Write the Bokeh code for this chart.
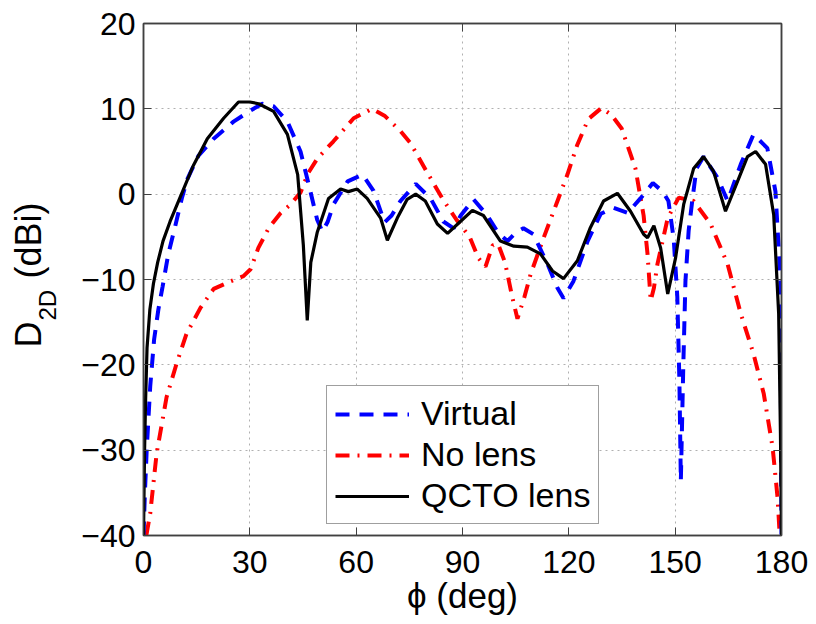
import math
from bokeh.plotting import figure
from bokeh.layouts import row
from bokeh.models import (Range1d, FixedTicker, LinearAxis, Legend, LegendItem,
                          Label, CustomJSTickFormatter)
from bokeh.embed import file_html
from bokeh.resources import INLINE

# ---------------- data ----------------
x_ticks = [0, 30, 60, 90, 120, 150, 180]
y_ticks = [-40, -30, -20, -10, 0, 10, 20]
x_tick_labels = ["0", "30", "60", "90", "120", "150", "180"]
y_tick_labels = ["\u221240", "\u221230", "\u221220", "\u221210", "0", "10", "20"]

virtual_phi = [0, 0.4, 0.9, 1.9, 3.0, 4.2, 5.4, 7.0, 8.8, 10.8, 12.4, 15.5, 19.8,
               25.4, 30.2, 33.5, 36.7, 40.6, 44.3, 47.1, 49.0, 50.5, 52.0, 53.6,
               57.6, 61.8, 64.9, 68.0, 70.0, 72.5, 76.8, 81.0, 84.6, 87.5, 89.5,
               93.1, 97.0, 100.0, 102.7, 105.0, 107.2, 110.0, 114.0, 116.8, 118.5,
               121.3, 125.3, 129.0, 132.6, 136.6, 140.2, 143.7, 146.5, 148.1,
               149.6, 150.6, 151.2, 151.6, 152.3, 152.9, 153.8, 154.9, 156.0,
               158.0, 162.0, 164.8, 168.5, 172.1, 176.0, 178.3, 179.7, 180.0]
virtual_db = [-40, -35, -30, -22.5, -17, -13.5, -10.8, -7, -4, -0.5, 1.8, 4.5, 6.5,
              8.5, 9.8, 10.6, 10.3, 8.5, 5.0, 0.3, -3.0, -4.4, -3.2, -1.2,
              1.5, 2.3, 0.4, -3.3, -2.5, -0.8, 1.2, -0.5, -3.2, -4.0, -2.5,
              -0.6, -2.5, -4.5, -5.5, -4.5, -4.0, -4.7, -8.2, -11.0, -12.2,
              -10.2, -5.5, -2.3, -1.6, -2.2, -0.5, 1.3, 0.3, -0.8,
              -5.3, -12.0, -22.0, -33.6, -20.0, -10.2, -4.3, -0.5, 3.0,
              4.4, 1.9, -0.8, 3.5, 7.0, 5.4, 0.3, -10.0, -40.0]

nolens_phi = [0.8, 1.9, 3.7, 6.5, 9.3, 12.1, 16.1, 19.8, 24.6, 28.2, 30.2, 32.4,
              35.3, 38.7, 41.5, 44.3, 46.5, 49.1, 53.6, 59.3, 64.5, 68.0, 72.5,
              75.3, 80.1, 84.3, 88.3, 92.0, 94.5, 96.5, 98.5, 100.0, 102.0, 104.0,
              105.5, 107.5, 109.2, 112.9, 116.8, 119.6, 122.4, 125.5, 129.2,
              132.0, 134.9, 138.8, 141.1, 142.2, 143.1, 144.0, 145.0, 147.9,
              151.0, 155.2, 160.0, 164.8, 168.5, 172.1, 175.0, 177.5, 178.9, 179.5]
nolens_db = [-40, -37.4, -30.4, -23.8, -19.9, -16.4, -13.3, -11.1, -10.2, -9.6, -8.8,
             -6.3, -4.0, -2.2, -1.2, 0.2, 2.5, 4.2, 6.2, 8.9, 10.0, 9.2, 7.4,
             6.0, 2.5, -0.5, -3.0, -5.0, -7.5, -8.5, -6.0, -5.8, -8.0, -12.0,
             -14.6, -12.0, -9.4, -5.1, -0.8, 2.3, 5.8, 8.8, 10.1,
             9.3, 7.7, 3.0, -2.5, -7.0, -12.5, -11.0, -8.2, -2.8,
             -0.4, -0.8, -3.5, -8.2, -14.0, -18.7, -23.4, -29.7, -35.6, -40.0]

qcto_phi = [0.0, 0.3, 0.6, 1.0, 1.8, 2.8, 4.0, 5.5, 7.5, 9.5, 11.3, 14.0, 18.0,
            22.6, 26.8, 30.0, 32.5, 36.7, 40.6, 43.5, 45.1, 46.2, 47.2, 49.0,
            52.2, 55.6, 57.8, 60.3, 63.1, 66.9, 68.8, 71.6, 74.4, 76.8, 79.5,
            82.9, 85.8, 89.4, 92.8, 95.9, 100.7, 104.5, 108.3, 112.0, 115.4,
            118.5, 122.4, 126.1, 129.8, 133.7, 137.4, 141.1, 142.2, 144.0,
            145.9, 147.9, 150.1, 152.4, 155.2, 158.0, 160.8, 164.2, 167.6,
            170.4, 172.7, 175.5, 177.8, 179.2, 179.7, 180.0]
qcto_db = [-40, -30, -24, -18, -13.5, -10.5, -8.0, -5.5, -3.2, -1.2, 0.6, 3.3, 6.5,
           8.9, 10.8, 10.8, 10.6, 9.7, 7.0, 2.3, -6.0, -14.8, -8.0, -4.5,
           -0.5, 0.6, 0.3, 0.6, -0.5, -2.8, -5.4, -2.8, -0.6, 0.0, -0.8,
           -3.5, -4.6, -3.2, -1.9, -2.5, -5.5, -6.1, -6.2, -7.0, -9.0,
           -9.9, -7.8, -3.9, -0.8, 0.1, -2.0, -4.7, -5.1, -3.7,
           -6.3, -11.7, -7.5, -1.2, 3.0, 4.4, 2.7, -2.0, 1.5,
           4.4, 5.0, 3.5, -2.4, -14.0, -28.0, -40.0]

legend_labels = ["Virtual", "No lens", "QCTO lens"]
y_label_parts = ["D", "2D", "(dBi)"]

# ---------------- main figure ----------------
FONT = "Liberation Sans"
FW, FH = 638, 512
LW = 70  # width of the side strip that carries the y label
p = figure(frame_width=FW, frame_height=FH,
           min_border_left=143 - LW, min_border_right=27, min_border_top=23,
           min_border_bottom=81,
           x_range=Range1d(0, 180), y_range=Range1d(-40, 20),
           output_backend="svg", toolbar_location=None)
p.background_fill_color = "white"
p.border_fill_color = "white"
p.outline_line_color = "#404040"
p.outline_line_width = 1.5

for ax, ticks, labels in ((p.xaxis[0], x_ticks, x_tick_labels),
                          (p.yaxis[0], y_ticks, y_tick_labels)):
    ax.ticker = FixedTicker(ticks=ticks)
    ax.major_label_overrides = {t: l for t, l in zip(ticks, labels)}
    ax.major_tick_in = 8
    ax.major_tick_out = 0
    ax.minor_tick_line_color = None
    ax.axis_line_color = "#404040"
    ax.axis_line_width = 1.5
    ax.major_tick_line_color = "#404040"
    ax.major_label_text_font = FONT
    ax.major_label_text_font_size = "32px"
    ax.major_label_text_color = "black"

p.xaxis.major_label_standoff = 15
p.yaxis.major_label_standoff = 8
p.xaxis.axis_label = "\u03d5 (deg)"
p.xaxis.axis_label_text_font = FONT
p.xaxis.axis_label_text_font_size = "35px"
p.xaxis.axis_label_text_font_style = "normal"
p.xaxis.axis_label_text_color = "black"
p.xaxis.axis_label_standoff = 0

# box ticks on top and right
for loc, ticks in (("above", x_ticks), ("right", y_ticks)):
    a = LinearAxis(ticker=FixedTicker(ticks=ticks),
                   formatter=CustomJSTickFormatter(code="return ''"),
                   major_tick_in=8, major_tick_out=0,
                   minor_tick_line_color=None,
                   axis_line_color="#404040", axis_line_width=1.5,
                   major_tick_line_color="#404040",
                   major_label_text_font_size="1px", major_label_standoff=0)
    p.add_layout(a, loc)

p.grid.grid_line_color = "#b0b0b0"
p.grid.grid_line_dash = "2 4"
p.grid.grid_line_width = 1
p.xgrid.ticker = FixedTicker(ticks=x_ticks)
p.ygrid.ticker = FixedTicker(ticks=y_ticks)

r_red = p.line(nolens_phi, nolens_db, line_color="#ff0000", line_width=4,
               line_dash="14 8 2 8")
r_blue = p.line(virtual_phi, virtual_db, line_color="#0000ff", line_width=4,
                line_dash="14 10")
r_black = p.line(qcto_phi, qcto_db, line_color="black", line_width=3.2)

legend = Legend(items=[LegendItem(label=legend_labels[0], renderers=[r_blue]),
                       LegendItem(label=legend_labels[1], renderers=[r_red]),
                       LegendItem(label=legend_labels[2], renderers=[r_black])],
                location=(183, 11), orientation="vertical",
                label_text_font=FONT, label_text_font_size="34px",
                label_text_color="black", label_height=38, glyph_height=38,
                glyph_width=74, label_standoff=12, spacing=2, padding=8,
                margin=0, border_line_color="#404040", border_line_width=1.2,
                background_fill_color="white", background_fill_alpha=1.0)
p.add_layout(legend, "center")

# ---------------- side strip with rotated y label ----------------
TOTAL_H = FH + 23 + 81
s = figure(width=LW, height=TOTAL_H, min_border=0,
           x_range=Range1d(0, 1), y_range=Range1d(0, 1),
           x_axis_type=None, y_axis_type=None,
           output_backend="svg", toolbar_location=None)
s.outline_line_color = None
s.grid.visible = False
s.background_fill_color = "white"
s.border_fill_color = "white"

lab_kw = dict(angle=math.pi / 2, text_font=FONT, text_color="black",
              text_align="left", text_baseline="alphabetic",
              x_units="screen", y_units="screen")
# screen units from the strip's bottom-left (empirically corrected)
y_start = TOTAL_H + 8 - 352 - 85
x_main = 43 - 8 - 7
x_sub = 57 - 8 - 2
s.add_layout(Label(x=x_main, y=y_start, text=y_label_parts[0],
                   text_font_size="36px", **lab_kw))
s.add_layout(Label(x=x_sub, y=y_start + 27, text=y_label_parts[1],
                   text_font_size="24px", **lab_kw))
s.add_layout(Label(x=x_main, y=y_start + 27 + 32 + 10, text=y_label_parts[2],
                   text_font_size="36px", **lab_kw))

layout = row(s, p, spacing=0)
open("out.html", "w").write(file_html(layout, INLINE))
